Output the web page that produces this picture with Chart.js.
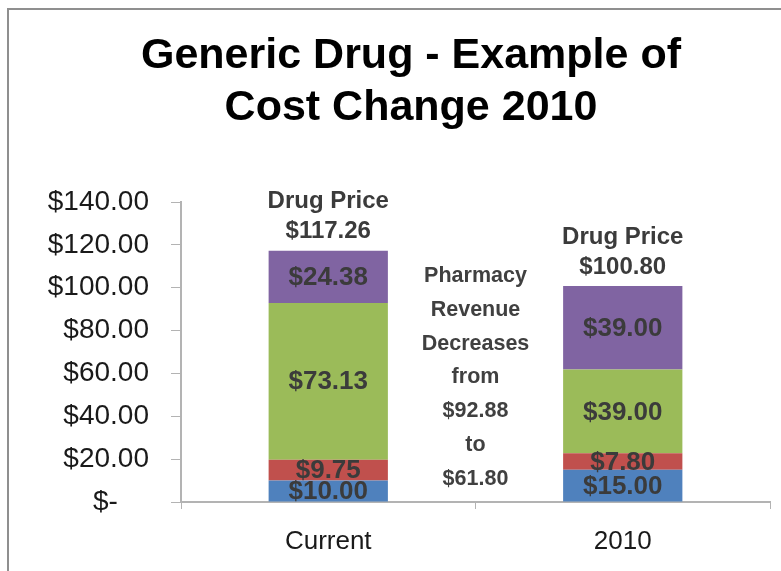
<!DOCTYPE html>
<html>
<head>
<meta charset="utf-8">
<script src="https://cdn.jsdelivr.net/npm/chart.js@4.4.0/dist/chart.umd.min.js"></script>
<style>
  html, body { margin: 0; padding: 0; background: #ffffff; }
  canvas { display: block; }
</style>
</head>
<body>
<canvas id="c" width="781" height="571"></canvas>
<script>
// ---- data ----
const categories = ['Current', '2010'];
const blueValues = [10.00, 15.00];
const redValues = [9.75, 7.80];
const greenValues = [73.13, 39.00];
const purpleValues = [24.38, 39.00];
const yTickValues = [0, 20, 40, 60, 80, 100, 120, 140];
const yTickLabels = ['$-    ', '$20.00', '$40.00', '$60.00', '$80.00', '$100.00', '$120.00', '$140.00'];
const titleLines = ['Generic Drug - Example of', 'Cost Change 2010'];
const totalCaption = 'Drug Price';
const noteLines = ['Pharmacy', 'Revenue', 'Decreases', 'from', '$92.88', 'to', '$61.80'];

const FONT = "'Liberation Sans', Arial, Helvetica, sans-serif";
const AXIS_COLOR = '#b3b3b3';

const fmt = v => '$' + v.toFixed(2);

const frameAndText = {
  id: 'frameAndText',
  beforeDraw(chart) {
    const ctx = chart.ctx;
    ctx.save();
    ctx.strokeStyle = '#8f8f8f';
    ctx.lineWidth = 2;
    ctx.beginPath();
    ctx.moveTo(8, 571);
    ctx.lineTo(8, 9);
    ctx.lineTo(781, 9);
    ctx.stroke();
    ctx.restore();
  },
  afterDatasetsDraw(chart) {
    const ctx = chart.ctx;
    const x = chart.scales.x, y = chart.scales.y;
    ctx.save();
    ctx.textAlign = 'center';
    ctx.textBaseline = 'middle';
    // segment labels
    ctx.fillStyle = '#3b3b3b';
    ctx.font = 'bold 26px ' + FONT;
    chart.data.datasets.forEach((ds, di) => {
      const meta = chart.getDatasetMeta(di);
      meta.data.forEach((el, i) => {
        const cy = (el.y + el.base) / 2;
        ctx.fillText(fmt(ds.data[i]), el.x, cy + 1);
      });
    });
    // totals
    ctx.font = 'bold 24px ' + FONT;
    categories.forEach((c, i) => {
      const total = blueValues[i] + redValues[i] + greenValues[i] + purpleValues[i];
      const px = x.getPixelForValue(i);
      const top = y.getPixelForValue(total);
      ctx.fillText(totalCaption, px, top - 49);
      ctx.fillText(fmt(total), px, top - 19);
    });
    // middle note
    ctx.fillStyle = '#404040';
    ctx.font = 'bold 21.5px ' + FONT;
    const mid = (x.getPixelForValue(0) + x.getPixelForValue(1)) / 2;
    noteLines.forEach((t, k) => {
      ctx.fillText(t, mid, chart.chartArea.top + 74 + k * 33.8);
    });
    ctx.restore();
  },
  afterDraw(chart) {
    const ctx = chart.ctx;
    ctx.save();
    ctx.textAlign = 'center';
    ctx.textBaseline = 'middle';
    ctx.fillStyle = '#000000';
    ctx.font = 'bold 43px ' + FONT;
    ctx.fillText(titleLines[0], 411, 56);
    ctx.fillText(titleLines[1], 411, 108);
    ctx.restore();
  }
};

new Chart(document.getElementById('c'), {
  type: 'bar',
  data: {
    labels: categories,
    datasets: [
      { label: 'A', data: blueValues, backgroundColor: '#4F81BD' },
      { label: 'B', data: redValues, backgroundColor: '#C0504D' },
      { label: 'C', data: greenValues, backgroundColor: '#9BBB59' },
      { label: 'D', data: purpleValues, backgroundColor: '#8064A2' }
    ]
  },
  options: {
    responsive: false,
    animation: false,
    devicePixelRatio: 1,
    layout: { padding: { top: 202, right: 11, bottom: 0, left: 0 } },
    datasets: { bar: { categoryPercentage: 1.0, barPercentage: 0.405, borderWidth: 0 } },
    plugins: { legend: { display: false }, title: { display: false }, tooltip: { enabled: false } },
    scales: {
      x: {
        stacked: true,
        grid: { drawOnChartArea: false, drawTicks: true, tickLength: 7, color: AXIS_COLOR, offset: true },
        border: { color: AXIS_COLOR, width: 2 },
        ticks: { color: '#1a1a1a', font: { family: FONT, size: 26 }, padding: 17 },
        afterFit(s) { s.height = 69; }
      },
      y: {
        stacked: true,
        min: 0,
        max: 140,
        afterBuildTicks(s) { s.ticks = yTickValues.map(v => ({ value: v })); },
        grid: { drawOnChartArea: false, drawTicks: true, tickLength: 10, color: AXIS_COLOR },
        border: { color: AXIS_COLOR, width: 2 },
        ticks: {
          color: '#1a1a1a',
          font: { family: FONT, size: 28 },
          padding: 22,
          callback: (v) => yTickLabels[yTickValues.indexOf(v)]
        },
        afterFit(s) { s.width = 181; }
      }
    }
  },
  plugins: [frameAndText]
});
</script>
</body>
</html>
